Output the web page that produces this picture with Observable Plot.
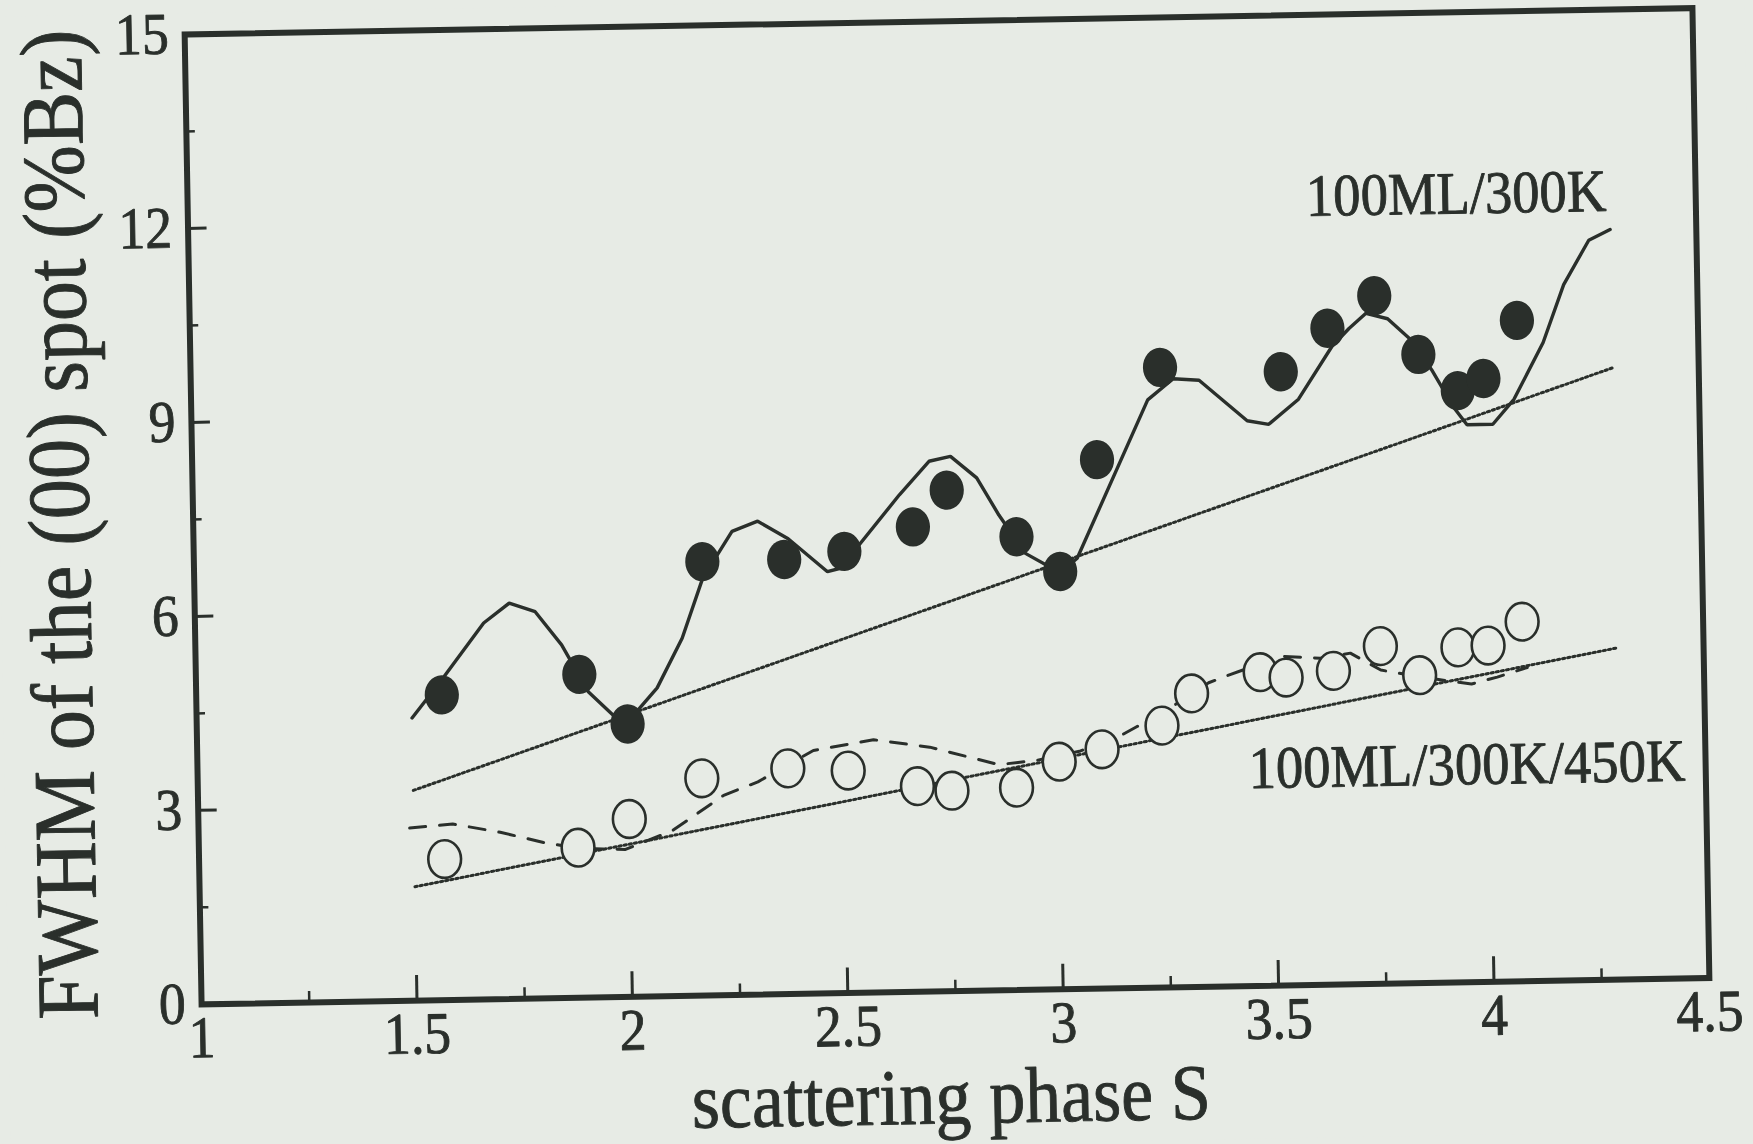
<!DOCTYPE html>
<html>
<head>
<meta charset="utf-8">
<script src="https://cdn.jsdelivr.net/npm/d3@7"></script>
<script src="https://cdn.jsdelivr.net/npm/@observablehq/plot@0.6"></script>
<style>
  html, body { margin: 0; padding: 0; background: #e7ebe5; }
  #chart { width: 1753px; height: 1144px; overflow: hidden; }
  #chart svg { display: block; transform: rotate(-1deg); transform-origin: 946.5px 505.75px; }
</style>
</head>
<body>
<div id="chart"></div>
<script>
// Measured FWHM of the (00) spot versus scattering phase S
const sFilled    = [1.57, 1.89, 2.00, 2.18, 2.37, 2.51, 2.67, 2.75, 2.91, 3.01, 3.10, 3.25, 3.53, 3.64, 3.75, 3.85, 3.94, 4.00, 4.08];
const fwhmFilled = [4.72, 5.00, 4.22, 6.71, 6.72, 6.83, 7.19, 7.75, 7.01, 6.46, 8.18, 9.59, 9.49, 10.15, 10.64, 9.72, 9.15, 9.33, 10.22];

const sOpen    = [1.57, 1.88, 2.00, 2.17, 2.37, 2.51, 2.67, 2.75, 2.90, 3.00, 3.10, 3.24, 3.31, 3.47, 3.53, 3.64, 3.75, 3.84, 3.93, 4.00, 4.08];
const fwhmOpen = [2.18, 2.32, 2.75, 3.36, 3.49, 3.44, 3.18, 3.10, 3.13, 3.52, 3.70, 4.05, 4.54, 4.85, 4.76, 4.85, 5.22, 4.76, 5.18, 5.20, 5.56];

// Calculated curves
const sCalc300    = [1.50, 1.57, 1.67, 1.73, 1.79, 1.85, 1.91, 1.97, 2.00, 2.07, 2.13, 2.18, 2.25, 2.31, 2.38, 2.47, 2.50, 2.64, 2.71, 2.76, 2.82, 2.87, 2.93, 3.01, 3.05, 3.22, 3.28, 3.34, 3.45, 3.50, 3.57, 3.65, 3.69, 3.73, 3.78, 3.83, 3.88, 3.93, 3.96, 4.02, 4.07, 4.14, 4.19, 4.25, 4.30];
const fwhmCalc300 = [4.37, 4.95, 5.82, 6.12, 5.98, 5.46, 4.73, 4.34, 4.25, 4.77, 5.53, 6.45, 7.17, 7.32, 7.04, 6.52, 6.57, 7.69, 8.20, 8.27, 7.93, 7.35, 6.75, 6.44, 6.66, 9.09, 9.41, 9.38, 8.74, 8.68, 9.06, 9.87, 10.14, 10.37, 10.28, 9.97, 9.48, 8.89, 8.62, 8.62, 9.00, 9.87, 10.76, 11.44, 11.60];

const sCalc450    = [1.49, 1.59, 1.70, 1.80, 1.88, 1.99, 2.10, 2.22, 2.30, 2.43, 2.57, 2.70, 2.86, 2.95, 3.05, 3.15, 3.25, 3.35, 3.40, 3.52, 3.61, 3.68, 3.75, 3.83, 3.90, 3.96, 4.02, 4.09];
const fwhmCalc450 = [2.67, 2.72, 2.58, 2.41, 2.31, 2.28, 2.56, 3.09, 3.29, 3.76, 3.91, 3.78, 3.49, 3.55, 3.68, 3.93, 4.28, 4.70, 4.82, 5.09, 5.05, 5.12, 4.85, 4.75, 4.67, 4.61, 4.71, 4.85];

// Linear backgrounds
const sLinear        = [1.50, 4.30];
const fwhmLinear300  = [3.25, 9.46];
const fwhmLinear450  = [1.76, 5.13];

// Axes
const xTickLabels = [1, 1.5, 2, 2.5, 3, 3.5, 4, 4.5];
const xMajor = [1.5, 2, 2.5, 3, 3.5, 4];
const xMinor = [1.25, 1.75, 2.25, 2.75, 3.25, 3.75, 4.25];
const yTickLabels = [0, 3, 6, 9, 12, 15];
const yMajor = [3, 6, 9, 12];
const yMinor = [1.5, 4.5, 7.5, 10.5, 13.5];

const seriesLabels = [
  {text: "100ML/300K", s: 3.944, fwhm: 11.89},
  {text: "100ML/300K/450K", s: 3.946, fwhm: 3.06}
];
const xTitle = "scattering phase S";
const yTitle = "FWHM of the (00) spot (%Bz)";

const INK = "#2a2f2b";
const PAPER = "#e7ebe5";
const FONT = "Liberation Serif";

const W = 1753, H = 1144;
const margin = {left: 192.5, right: 52.5, top: 20.75, bottom: 153.25};
const plotW = W - margin.left - margin.right;
const plotH = H - margin.top - margin.bottom;

const pts = (xs, ys) => xs.map((s, i) => ({s, fwhm: ys[i]}));

// Slightly tall elliptical marker
function ellipse(sx, sy) {
  const k = 0.5523;
  return {
    draw(ctx, size) {
      const r = Math.sqrt(size / Math.PI);
      const a = r * sx, b = r * sy;
      ctx.moveTo(a, 0);
      ctx.bezierCurveTo(a, k * b, k * a, b, 0, b);
      ctx.bezierCurveTo(-k * a, b, -a, k * b, -a, 0);
      ctx.bezierCurveTo(-a, -k * b, -k * a, -b, 0, -b);
      ctx.bezierCurveTo(k * a, -b, a, -k * b, a, 0);
      ctx.closePath();
    }
  };
}
const marker = ellipse(0.93, 1.07);

const fmt = d => String(d);
// printed lettering is a little heavier than the screen face
const ink = {fill: INK, stroke: INK, strokeWidth: 0.9};

const chart = Plot.plot({
  width: W,
  height: H,
  marginLeft: margin.left,
  marginRight: margin.right,
  marginTop: margin.top,
  marginBottom: margin.bottom,
  style: {background: PAPER, fontFamily: FONT, color: INK},
  x: {domain: [1, 4.5], axis: null},
  y: {domain: [0, 15], axis: null},
  marks: [
    // inward ticks on the bottom and left axes
    Plot.tickX(xMajor, {x: d => d, insetTop: plotH - 25, stroke: INK, strokeWidth: 3}),
    Plot.tickX(xMinor, {x: d => d, insetTop: plotH - 11, stroke: INK, strokeWidth: 2.5}),
    Plot.tickY(yMajor, {y: d => d, insetRight: plotW - 19, stroke: INK, strokeWidth: 3}),
    Plot.tickY(yMinor, {y: d => d, insetRight: plotW - 9, stroke: INK, strokeWidth: 2.5}),

    // linear backgrounds (fine dotted)
    Plot.line(pts(sLinear, fwhmLinear300), {x: "s", y: "fwhm", stroke: INK, strokeWidth: 3, strokeDasharray: "2.2,3"}),
    Plot.line(pts(sLinear, fwhmLinear450), {x: "s", y: "fwhm", stroke: INK, strokeWidth: 3, strokeDasharray: "2.2,3"}),

    // calculated curves
    Plot.line(pts(sCalc300, fwhmCalc300), {x: "s", y: "fwhm", stroke: INK, strokeWidth: 3.4, strokeLinejoin: "miter"}),
    Plot.line(pts(sCalc450, fwhmCalc450), {x: "s", y: "fwhm", stroke: INK, strokeWidth: 3, strokeDasharray: "16,14"}),

    // measured points
    Plot.dot(pts(sOpen, fwhmOpen), {x: "s", y: "fwhm", r: 17.6, symbol: marker, fill: PAPER, stroke: INK, strokeWidth: 2.6}),
    Plot.dot(pts(sFilled, fwhmFilled), {x: "s", y: "fwhm", r: 18.4, symbol: marker, fill: INK, stroke: "none"}),

    // series labels
    Plot.text(seriesLabels, {x: "s", y: "fwhm", text: "text", textAnchor: "middle", lineAnchor: "bottom", fontSize: 60, ...ink}),

    // tick labels
    Plot.text(xTickLabels, {x: d => d, text: fmt, frameAnchor: "bottom", textAnchor: "middle", lineAnchor: "top", dy: 11, fontSize: 59, ...ink}),
    Plot.text(yTickLabels, {y: d => d, text: fmt, frameAnchor: "left", textAnchor: "end", lineAnchor: "middle", dx: -16, fontSize: 59, ...ink}),

    // axis titles
    Plot.text([xTitle], {frameAnchor: "bottom", textAnchor: "middle", lineAnchor: "bottom", dy: 132, dx: -6, fontSize: 79, ...ink}),
    Plot.text([yTitle], {frameAnchor: "left", textAnchor: "middle", rotate: -90, lineAnchor: "bottom", dx: -104, dy: 3, fontSize: 88, ...ink}),

    Plot.frame({stroke: INK, strokeWidth: 6})
  ]
});

document.getElementById("chart").append(chart);

// The lettering is a condensed serif: squeeze each label horizontally
chart.querySelectorAll("text").forEach(t => {
  const len = t.getComputedTextLength();
  if (len > 0) {
    t.setAttribute("textLength", (len * 0.91).toFixed(1));
    t.setAttribute("lengthAdjust", "spacingAndGlyphs");
  }
});
</script>
</body>
</html>
